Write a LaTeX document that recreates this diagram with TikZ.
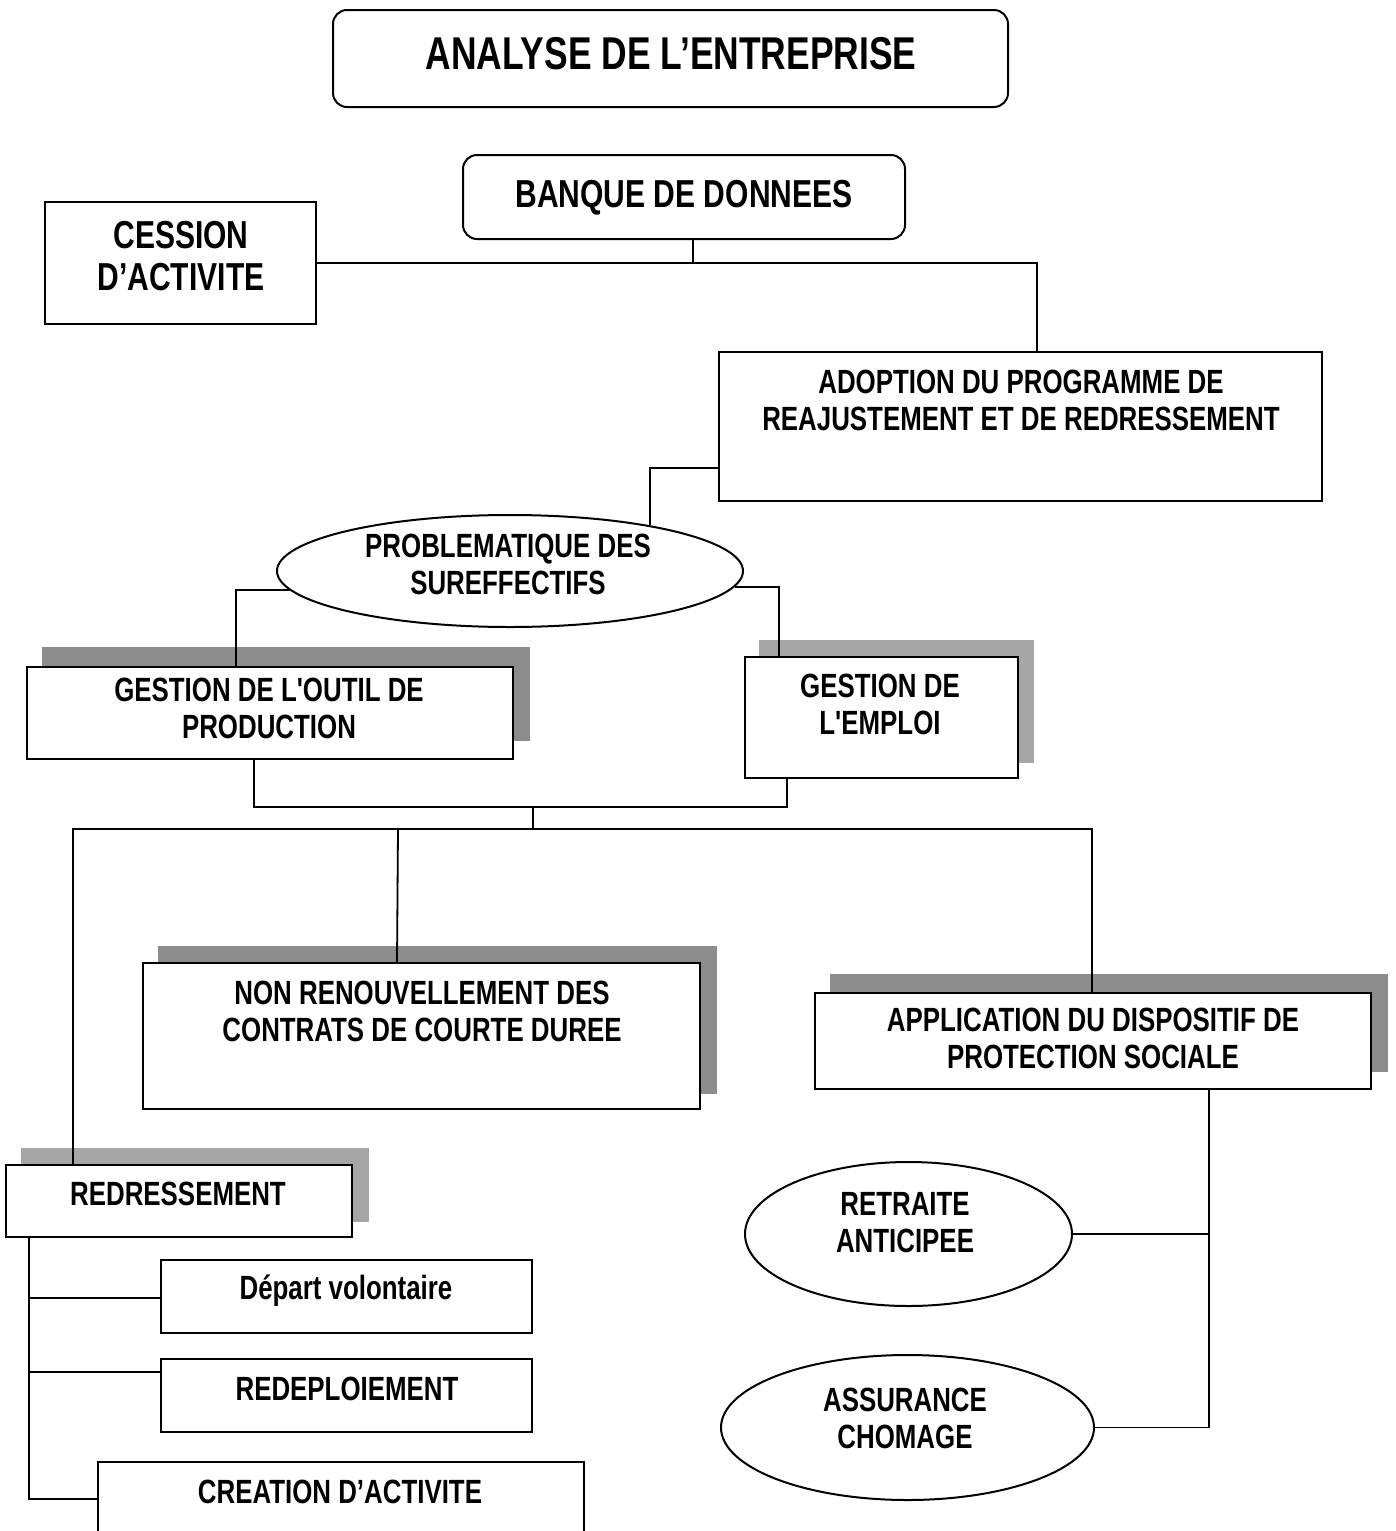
\documentclass[tikz,border=0pt]{standalone}
\usepackage{fontspec}
\newfontfamily\dfont{Liberation Sans}[FakeStretch=0.77]
\usetikzlibrary{shapes.geometric,fit,backgrounds,calc}

\begin{document}
\begin{tikzpicture}[x=0.5pt,y=-0.5pt,
  box/.style={draw, fill=white, inner sep=0pt, line width=1pt},
  rbox/.style={box, rounded corners=7pt},
  ell/.style={draw, fill=white, ellipse, inner sep=0pt, line width=1pt},
  txt/.style={align=center, inner sep=0pt, font=\dfont\bfseries\fontsize{16.8}{18.5}\selectfont},
  bigtxt/.style={align=center, inner sep=0pt, font=\dfont\bfseries\fontsize{19.5}{21}\selectfont},
  ttl/.style={align=center, inner sep=0pt, font=\dfont\bfseries\fontsize{23}{26}\selectfont},
  link/.style={draw, line width=0.9pt},
  shade/.style={fill=black!45},
]
\useasboundingbox (0,0) rectangle (1396,1531);

% boxes
\node[rbox, fit={(333,10) (1008,107)}] (titre) {};
\node[rbox, fit={(463,155) (905,239)}] (banque) {};
\node[box, fit={(45,202) (316,324)}] (cession) {};
\node[box, fit={(719,352) (1322,501)}] (adopt) {};
\node[ell, minimum width=233pt, minimum height=56pt] (prob) at (510,571) {};
\node[box, fit={(27,667) (513,759)}] (outil) {};
\node[box, fit={(745,657) (1018,778)}] (emploi) {};
\node[box, fit={(143,963) (700,1109)}] (non) {};
\node[box, fit={(815,993) (1371,1089)}] (app) {};
\node[box, fit={(6,1165) (352,1237)}] (redr) {};
\node[box, fit={(161,1260) (532,1333)}] (depart) {};
\node[box, fit={(161,1359) (532,1432)}] (redep) {};
\node[box, fit={(98,1462) (584,1548)}] (creation) {};
\node[ell, minimum width=163.5pt, minimum height=72pt] (retr) at (908.5,1234) {};
\node[ell, minimum width=186.5pt, minimum height=72.5pt] (assur) at (907.5,1427.5) {};

% drop shadows
\begin{scope}[on background layer]
  \fill[shade] ($(outil.south west)+(16,-19)$) rectangle ($(outil.north east)+(16,-19)$);
  \fill[shade, fill=black!35] ($(emploi.south west)+(15,-16)$) rectangle ($(emploi.north east)+(15,-16)$);
  \fill[shade] ($(non.south west)+(16,-16)$) rectangle ($(non.north east)+(16,-16)$);
  \fill[shade] ($(app.south west)+(16,-18)$) rectangle ($(app.north east)+(16,-18)$);
  \fill[shade, fill=black!35] ($(redr.south west)+(16,-16)$) rectangle ($(redr.north east)+(16,-16)$);
\end{scope}

% labels
\node[ttl] (titreT) at (671,54) {ANALYSE DE L’ENTREPRISE};
\node[bigtxt] (banqueT) at (684,198) {BANQUE DE DONNEES};
\node[bigtxt] (cessionT) at (181,256) {CESSION\\D’ACTIVITE};
\node[txt] (adoptT) at (1021,400) {ADOPTION DU PROGRAMME DE\\REAJUSTEMENT ET DE REDRESSEMENT};
\node[txt] (probT) at (508,564) {PROBLEMATIQUE DES\\SUREFFECTIFS};
\node[txt] (outilT) at (269,708) {GESTION DE L'OUTIL DE\\PRODUCTION};
\node[txt] (emploiT) at (880,704) {GESTION DE\\L'EMPLOI};
\node[txt] (nonT) at (422,1011) {NON RENOUVELLEMENT DES\\CONTRATS DE COURTE DUREE};
\node[txt] (appT) at (1093,1038) {APPLICATION DU DISPOSITIF DE\\PROTECTION SOCIALE};
\node[txt] (redrT) at (178,1194) {REDRESSEMENT};
\node[txt] (departT) at (346,1291) {Départ volontaire};
\node[txt] (redepT) at (347,1389) {REDEPLOIEMENT};
\node[txt] (creationT) at (340,1492) {CREATION D’ACTIVITE};
\node[txt] (retrT) at (905,1223) {RETRAITE\\ANTICIPEE};
\node[txt] (assurT) at (905,1418) {ASSURANCE\\CHOMAGE};

% junction points
\coordinate (topbus) at (693,263);
\coordinate (mbus) at (533,807);
\coordinate (lbus) at (533,829);

% connectors
\draw[link] (banque.south -| topbus) -- (topbus);
\draw[link] (cession.east) -| ($(adopt.north west)+(319,0)$);
\draw[link] ($(adopt.north west)+(0,117)$) -| (prob.18);
\draw[link] (prob.185.6) -| ($(outil.north west)+(210,0)$);
\draw[link] (prob.356) -| ($(emploi.north west)+(35,0)$);
\draw[link] ($(outil.south west)+(228,0)$) |- (mbus) -| ($(emploi.south west)+(43,0)$);
\draw[link] (mbus) -- (lbus);
\draw[link] (lbus) -| ($(redr.north west)+(68,0)$);
\draw[link] (lbus) -| ($(app.north west)+(278,0)$);
\draw[link] ($(lbus)+(-135,0)$) -- ($(non.north west)+(255,0)$);
\draw[link] ($(redr.south west)+(24,0)$) |- ($(depart.north west)+(0,39)$);
\draw[link] ($(redr.south west)+(24,0)$) |- ($(redep.north west)+(0,14)$);
\draw[link] ($(redr.south west)+(24,0)$) |- ($(creation.north west)+(0,38)$);
\draw[link] ($(app.south west)+(395,0)$) |- (retr.east);
\draw[link] ($(app.south west)+(395,0)$) |- (assur.east);
\end{tikzpicture}
\end{document}
